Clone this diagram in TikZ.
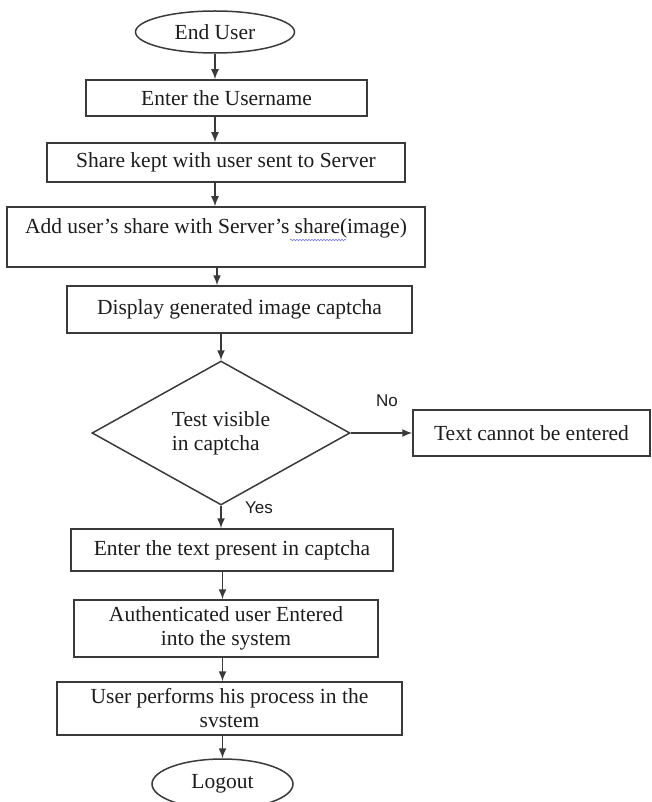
\documentclass[tikz,border=0pt]{standalone}
\usepackage{fontspec}
\setmainfont{Liberation Serif}
\newfontfamily\labelfont{Liberation Sans}
\usetikzlibrary{shapes.geometric,arrows.meta,decorations.pathmorphing}
\definecolor{linegray}{HTML}{3A3A3A}
\definecolor{textgray}{HTML}{1C1C1C}

\begin{document}
\begin{tikzpicture}[x=1pt,y=-1pt,
  every node/.style={font=\fontsize{21.5}{24}\selectfont,text=textgray},
  proc/.style={draw=linegray,line width=1.5pt,inner sep=0pt,align=center},
  term/.style={ellipse,draw=linegray,line width=1.5pt,inner sep=0pt},
  decide/.style={diamond,draw=linegray,line width=1.5pt,inner sep=0pt,align=left},
  lbl/.style={font=\labelfont\fontsize{17}{20}\selectfont},
  arr/.style={draw=linegray,line width=1.5pt,-{Latex[length=10pt,width=8pt]}}]
\useasboundingbox (0,0) rectangle (651,802);
%flow
\node[term,minimum width=159pt,minimum height=42pt] (user) at (215,32) {End User};
\node[proc,minimum width=281pt,minimum height=36pt] (uname) at (226.5,98) {Enter the Username};
\node[proc,minimum width=358pt,minimum height=39pt] (share) at (226,162.5) {Share kept with user sent to Server};
\node[proc,minimum width=418pt,minimum height=60pt] (combine) at (216,237) {Add user's share with Server's share(image)\\[-10pt]\strut};
\node[proc,minimum width=345pt,minimum height=47pt] (show) at (239.5,309.5) {Display generated image captcha};
\node[decide,minimum width=258pt,minimum height=144pt] (test) at (221,433) {Test visible\\in captcha};
\node[proc,minimum width=237pt,minimum height=46pt] (blocked) at (531.5,433) {Text cannot be entered};
\node[proc,minimum width=322pt,minimum height=42pt] (typein) at (232,550) {Enter the text present in captcha};
\node[proc,minimum width=304pt,minimum height=57pt] (auth) at (226,628.5) {Authenticated user Entered\\into the system};
\node[proc,minimum width=345pt,minimum height=53pt] (work) at (229.5,708.5) {User performs his process in the\\svstem};
\node[term,minimum width=141pt,minimum height=50pt] (logout) at (222.5,784) {Logout};
%spell-check mark under "share"
\draw[blue!55,line width=0.6pt,decorate,
  decoration={snake,amplitude=0.8pt,segment length=3pt}] (290,240) -- (346,240);
%arrows
\coordinate (upper) at (215,0);
\coordinate (lower) at (222.5,0);
\draw[arr] (user.south) -- (user.south |- uname.north);
\draw[arr] (uname.south -| upper) -- (share.north -| upper);
\draw[arr] (share.south -| upper) -- (combine.north -| upper);
\draw[arr] ([xshift=2pt]combine.south -| upper) -- ([xshift=2pt]show.north -| upper);
\draw[arr] (show.south -| test.north) -- (test.north);
\draw[arr] (test.east) -- (blocked.west);
\draw[arr] (test.south) -- (test.south |- typein.north);
\draw[arr] (typein.south -| lower) -- (auth.north -| lower);
\draw[arr] (auth.south -| lower) -- (work.north -| lower);
\draw[arr] (work.south -| lower) -- (logout.north);
%Text
\node[lbl] (no) at (387,401) {No};
\node[lbl] (yes) at (259,508) {Yes};
\end{tikzpicture}
\end{document}
